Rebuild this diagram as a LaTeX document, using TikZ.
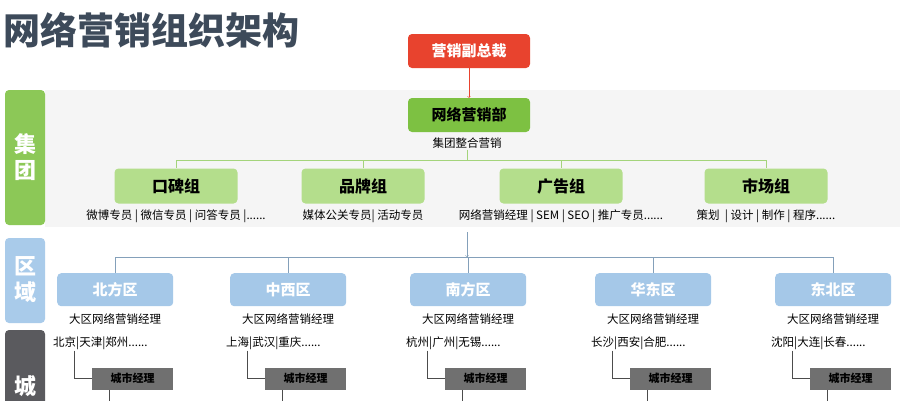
\documentclass[tikz,border=0pt]{standalone}
\usepackage{fontspec}
\setmainfont{Noto Sans CJK SC}
\usetikzlibrary{positioning}
\definecolor{redbox}{HTML}{E8432E}
\definecolor{deptgreen}{HTML}{7DC142}
\definecolor{grpgreen}{HTML}{B4DE8C}
\definecolor{tabgreen}{HTML}{8CC857}
\definecolor{areablue}{HTML}{A5C8E8}
\definecolor{tabblue}{HTML}{A9CBEA}
\definecolor{citygray}{HTML}{707070}
\definecolor{tabgray}{HTML}{5A5A5E}
\definecolor{titleink}{HTML}{3D4A5A}
\definecolor{bandgray}{HTML}{F5F5F5}
\newcommand\sixdots{......}
\tikzset{
  topbox/.style={rounded corners=4pt,minimum width=122pt,minimum height=34pt,font=\bfseries\fontsize{15}{15}\selectfont},
  grpbox/.style={fill=grpgreen,rounded corners=4pt,minimum width=123pt,minimum height=35pt,font=\bfseries\fontsize{16}{16}\selectfont},
  areabox/.style={fill=areablue,rounded corners=4pt,minimum width=116pt,minimum height=33pt,text=white,font=\bfseries\fontsize{15}{15}\selectfont},
  citybox/.style={fill=citygray,minimum width=81pt,minimum height=22pt,font=\bfseries\fontsize{11}{11}\selectfont},
  small/.style={font=\fontsize{11.5}{11.5}\selectfont,inner sep=1pt},
  sidetab/.style={rounded corners=4pt,text=white,font=\bfseries\fontsize{22}{26}\selectfont,align=center}
}
\begin{document}
\begin{tikzpicture}[x=1pt,y=-1pt]
\useasboundingbox[fill=white] (0,0) rectangle (900,400);
\fill[bandgray] (45,90) rectangle (900,227);
% side tabs
\fill[tabgreen,rounded corners=4pt] (5,90) rectangle (45,225);
\node[sidetab] (tabgroup) at (25,157) {集\\团};
\fill[tabblue,rounded corners=4pt] (5,238) rectangle (45,323);
\node[sidetab] (tabarea) at (25,280) {区\\域};
\fill[tabgray,rounded corners=4pt] (5,330) rectangle (45,410);
\node[sidetab,anchor=north] (tabcity) at (25,372) {城};
\node[anchor=west,text=titleink,font=\bfseries\fontsize{37}{37}\selectfont] (title) at (0,30) {网络营销组织架构};

% top
\node[topbox,fill=redbox,text=white] (vp) at (469,51) {营销副总裁};
\node[topbox,fill=deptgreen] (dept) at (469,115) {网络营销部};
\node[small] (deptnote) at (467,143) {集团整合营销};
\draw[redbox,->] (vp) -- (dept);

% groups
\foreach \name/\x/\txt/\note in {kb/176/口碑组/{微博专员 | 微信专员 | 问答专员 |\sixdots},
    pp/363/品牌组/{媒体公关专员| 活动专员},
    gg/561/广告组/{网络营销经理 | SEM | SEO | 推广专员\sixdots},
    sc/766/市场组/{策划 \ | 设计 | 制作 | 程序\sixdots}}{
  \node[grpbox] (\name) at (\x,186) {\txt};
  \node[small] (\name note) at (\x,216) {\note};
}
\coordinate (gbus) at (467,160);
\draw[deptgreen!70] (deptnote) -- (gbus) (kb.north |- gbus) -- (sc.north |- gbus);
\foreach \name in {kb,pp,gg,sc}{\draw[deptgreen!70] (\name.north |- gbus) -- (\name.north);}

% regions
\coordinate (arrtop) at (467,232);
\coordinate (abus) at (467,257);
\draw[areablue!80!black,->] (arrtop) -- (abus);
\foreach \name/\x/\cities in {bf/57/{北京|天津|郑州\sixdots}, zx/230/{上海|武汉|重庆\sixdots},
    nf/410/{杭州|广州|无锡\sixdots}, hd/595/{长沙|西安|合肥\sixdots}, db/775/{沈阳|大连|长春\sixdots}}{
  \node[areabox,anchor=north west] (\name) at (\x,273) {};
  \node[small] (\name mgr) at ([yshift=-13pt]\name.south) {大区网络营销经理};
  \node[small,anchor=west] (\name city) at (\x-5,343) {\cities};
  \node[citybox,anchor=north east] (\name boss) at ([yshift=-61pt]\name.south east) {城市经理};
  \draw[black!70] ([xshift=17pt]\name.south west |- \name city.south) |- (\name boss.west);
  \draw[black!70] ([xshift=17pt]\name boss.south west) -- ++(0,15);
  \draw[areablue!80!black] (\name.north |- abus) -- (\name.north);
}
\node[text=white,font=\bfseries\fontsize{15}{15}\selectfont] at (bf) {北方区};
\node[text=white,font=\bfseries\fontsize{15}{15}\selectfont] at (zx) {中西区};
\node[text=white,font=\bfseries\fontsize{15}{15}\selectfont] at (nf) {南方区};
\node[text=white,font=\bfseries\fontsize{15}{15}\selectfont] at (hd) {华东区};
\node[text=white,font=\bfseries\fontsize{15}{15}\selectfont] at (db) {东北区};
\draw[areablue!80!black] (bf.north |- abus) -- (db.north |- abus);
\end{tikzpicture}
\end{document}
